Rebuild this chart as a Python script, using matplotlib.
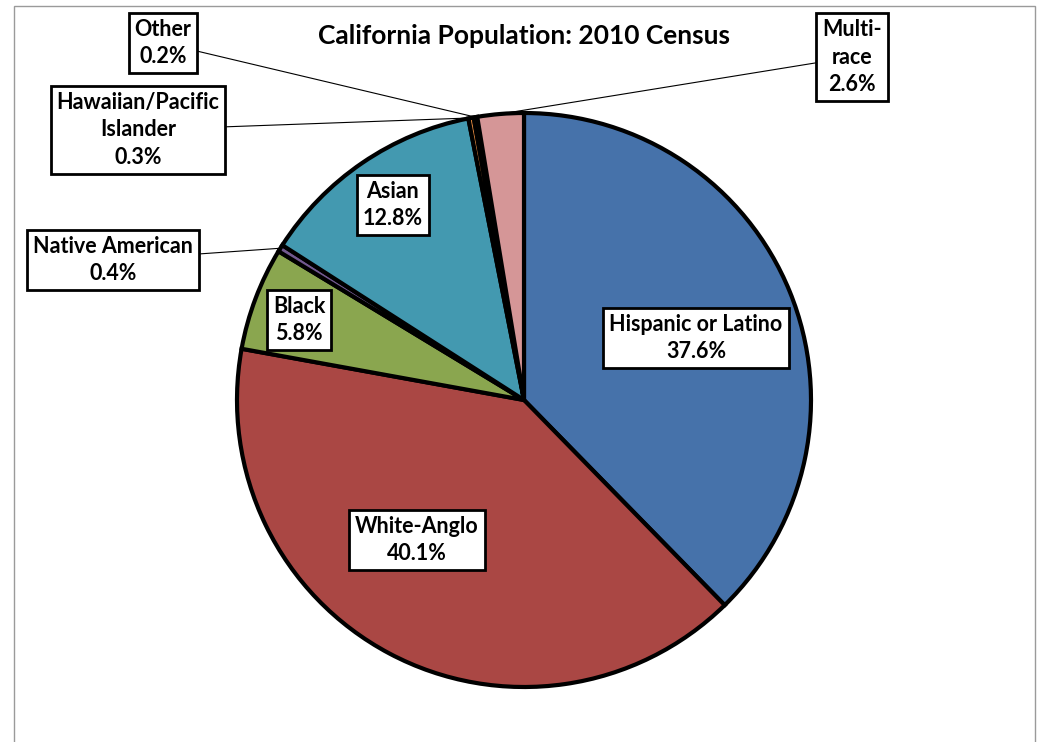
import numpy as np
import matplotlib
matplotlib.use("Agg")
import matplotlib.pyplot as plt
from matplotlib.patches import Rectangle

labels = ["Hispanic or Latino", "White-Anglo", "Black", "Native American",
          "Asian", "Hawaiian/Pacific\nIslander", "Other", "Multi-\nrace"]
shares = [37.6, 40.1, 5.8, 0.4, 12.8, 0.3, 0.2, 2.6]
colors = ["#4672AA", "#AA4744", "#8AA64F", "#72598F", "#4399B0",
          "#DB843D", "#2B2B3A", "#D59697"]

# label box centres in pixel space (y measured from top)
box_pos = [(696, 338), (417, 540), (299, 320), (113, 260),
           (393, 205), (138, 130), (163, 43), (852, 57)]
outside = [False, False, False, True, False, True, True, True]

W, H = 1040, 742
cx, cy, r = 524, H - 400, 287

plt.rcParams["font.family"] = ["Lato", "DejaVu Sans"]
fig = plt.figure(figsize=(W / 100, H / 100), dpi=100)
ax = fig.add_axes([0, 0, 1, 1])

# outer frame
fig.patches.append(Rectangle((14 / W, -0.05), (1035 - 14) / W, (H - 6) / H + 0.05,
                             transform=fig.transFigure, fill=False,
                             edgecolor="#9a9a9a", linewidth=1.0))

wedges, _ = ax.pie(shares, colors=colors, startangle=90, counterclock=False,
                   center=(cx, cy), radius=r, frame=True,
                   wedgeprops=dict(edgecolor="black", linewidth=3.0))
ax.set_xlim(0, W)
ax.set_ylim(0, H)
ax.set_aspect("equal")
ax.axis("off")

frac = np.array(shares) / sum(shares)
cum = np.cumsum(frac)
for i, (lab, val) in enumerate(zip(labels, shares)):
    bx, by = box_pos[i]
    by = H - by
    if outside[i]:
        mid = cum[i] - frac[i] / 2
        ang = np.deg2rad(90 - 360 * mid)
        ex, ey = cx + r * np.cos(ang), cy + r * np.sin(ang)
        ax.plot([bx, ex], [by, ey], color="black", linewidth=0.8, zorder=3)
    ax.text(bx, by, f"{lab}\n{val}%", ha="center", va="center", fontsize=15.5,
            fontweight="bold", linespacing=1.38, zorder=5,
            bbox=dict(boxstyle="square,pad=0.28", facecolor="white",
                      edgecolor="black", linewidth=2.0))

ax.text(524, H - 36, "California Population: 2010 Census", ha="center",
        va="center", fontsize=19, fontweight="bold")

fig.savefig("out.png", dpi=100)
